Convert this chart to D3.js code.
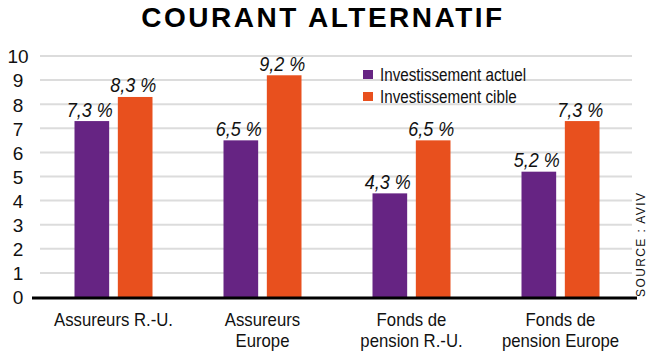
<!DOCTYPE html>
<html>
<head>
<meta charset="utf-8">
<script src="https://cdn.jsdelivr.net/npm/d3@7"></script>
<style>
  body { margin: 0; background: #fff; }
  svg { display: block; }
</style>
</head>
<body>
<div id="chart"></div>
<script>
// data
const categories = [["Assureurs R.-U."], ["Assureurs", "Europe"], ["Fonds de", "pension R.-U."], ["Fonds de", "pension Europe"]];
const seriesNames = ["Investissement actuel", "Investissement cible"];
const actuel = [7.3, 6.5, 4.3, 5.2];
const cible = [8.3, 9.2, 6.5, 7.3];
const yTicks = [0, 1, 2, 3, 4, 5, 6, 7, 8, 9, 10];

const width = 647, height = 351;
const colors = ["#662483", "#e8501e"];
const sans = "'Liberation Sans', Arial, sans-serif";
const narrow = 0.8; // horizontal squeeze to mimic condensed type

const svg = d3.select("#chart").append("svg")
  .attr("width", width)
  .attr("height", height);

const keys = categories.map(c => c.join(" "));
const rows = keys.map((k, i) => ({ key: k, lines: categories[i], values: [actuel[i], cible[i]] }));

const x = d3.scaleBand()
  .domain(keys)
  .range([39, 635]);

const xs = d3.scaleBand()
  .domain([0, 1])
  .range([x.bandwidth() / 2 - 39, x.bandwidth() / 2 + 39])
  .paddingInner(0.2);

const y = d3.scaleLinear()
  .domain([0, 10])
  .range([297, 56]);

// title
svg.append("text")
  .attr("x", 323)
  .attr("y", 27)
  .attr("text-anchor", "middle")
  .style("font-family", sans)
  .style("font-weight", 700)
  .style("font-size", "28px")
  .style("letter-spacing", "2.5px")
  .text("COURANT ALTERNATIF");

// grid
svg.append("g")
  .selectAll("line")
  .data(yTicks.filter(d => d > 0))
  .join("line")
  .attr("x1", 40)
  .attr("x2", 632)
  .attr("y1", d => y(d))
  .attr("y2", d => y(d))
  .attr("stroke", "#dcdcdc")
  .attr("stroke-width", 2);

// y axis labels
const yAxis = d3.axisLeft(y).tickValues(yTicks).tickSize(0).tickPadding(0);
const yg = svg.append("g")
  .attr("transform", "translate(18,0)")
  .call(yAxis);
yg.select(".domain").remove();
yg.selectAll("text")
  .attr("text-anchor", "middle")
  .attr("dy", "0.36em")
  .style("font-family", sans)
  .style("font-size", "19px")
  .attr("fill", "#111");

// bars
const groups = svg.append("g")
  .selectAll("g.group")
  .data(rows)
  .join("g")
  .attr("class", "group")
  .attr("transform", d => `translate(${x(d.key)},0)`);

groups.selectAll("rect")
  .data(d => d.values.map((v, i) => ({ i, v })))
  .join("rect")
  .attr("x", d => xs(d.i))
  .attr("y", d => y(d.v))
  .attr("width", xs.bandwidth())
  .attr("height", d => y(0) - y(d.v))
  .attr("fill", d => colors[d.i]);

groups.selectAll("text.val")
  .data(d => d.values.map((v, i) => ({ i, v })))
  .join("text")
  .attr("class", "val")
  .attr("transform", d => `translate(${xs(d.i) + xs.bandwidth() / 2 - 2},${y(d.v) - 4.5}) scale(0.9,1)`)
  .attr("text-anchor", "middle")
  .style("font-family", sans)
  .style("font-style", "italic")
  .style("font-size", "20px")
  .attr("fill", "#111")
  .text(d => d3.format(".1f")(d.v).replace(".", ",") + " %");

// baseline
svg.append("line")
  .attr("x1", 32)
  .attr("x2", 637)
  .attr("y1", y(0) + 1)
  .attr("y2", y(0) + 1)
  .attr("stroke", "#000")
  .attr("stroke-width", 3);

// category labels
groups.append("text")
  .attr("transform", `translate(${x.bandwidth() / 2},326) scale(0.93,1)`)
  .attr("text-anchor", "middle")
  .style("font-family", sans)
  .style("font-size", "18px")
  .attr("fill", "#111")
  .selectAll("tspan")
  .data(d => d.lines)
  .join("tspan")
  .attr("x", 0)
  .attr("dy", (d, i) => i === 0 ? 0 : 21)
  .text(d => d);

// legend
const legend = svg.append("g")
  .attr("transform", "translate(363,74)");
const li = legend.selectAll("g")
  .data(seriesNames)
  .join("g")
  .attr("transform", (d, i) => `translate(0,${i * 22})`);
li.append("rect")
  .attr("x", 0)
  .attr("y", -4)
  .attr("width", 10)
  .attr("height", 9)
  .attr("fill", (d, i) => colors[i]);
li.append("text")
  .attr("transform", `translate(17,0) scale(${narrow},1)`)
  .attr("dy", "0.36em")
  .style("font-family", sans)
  .style("font-size", "19px")
  .attr("fill", "#111")
  .text(d => d);

// source
svg.append("text")
  .attr("transform", "translate(645,297) rotate(-90)")
  .style("font-family", sans)
  .style("font-size", "12px")
  .style("letter-spacing", "1.4px")
  .attr("fill", "#111")
  .text("SOURCE : AVIV");
</script>
</body>
</html>
